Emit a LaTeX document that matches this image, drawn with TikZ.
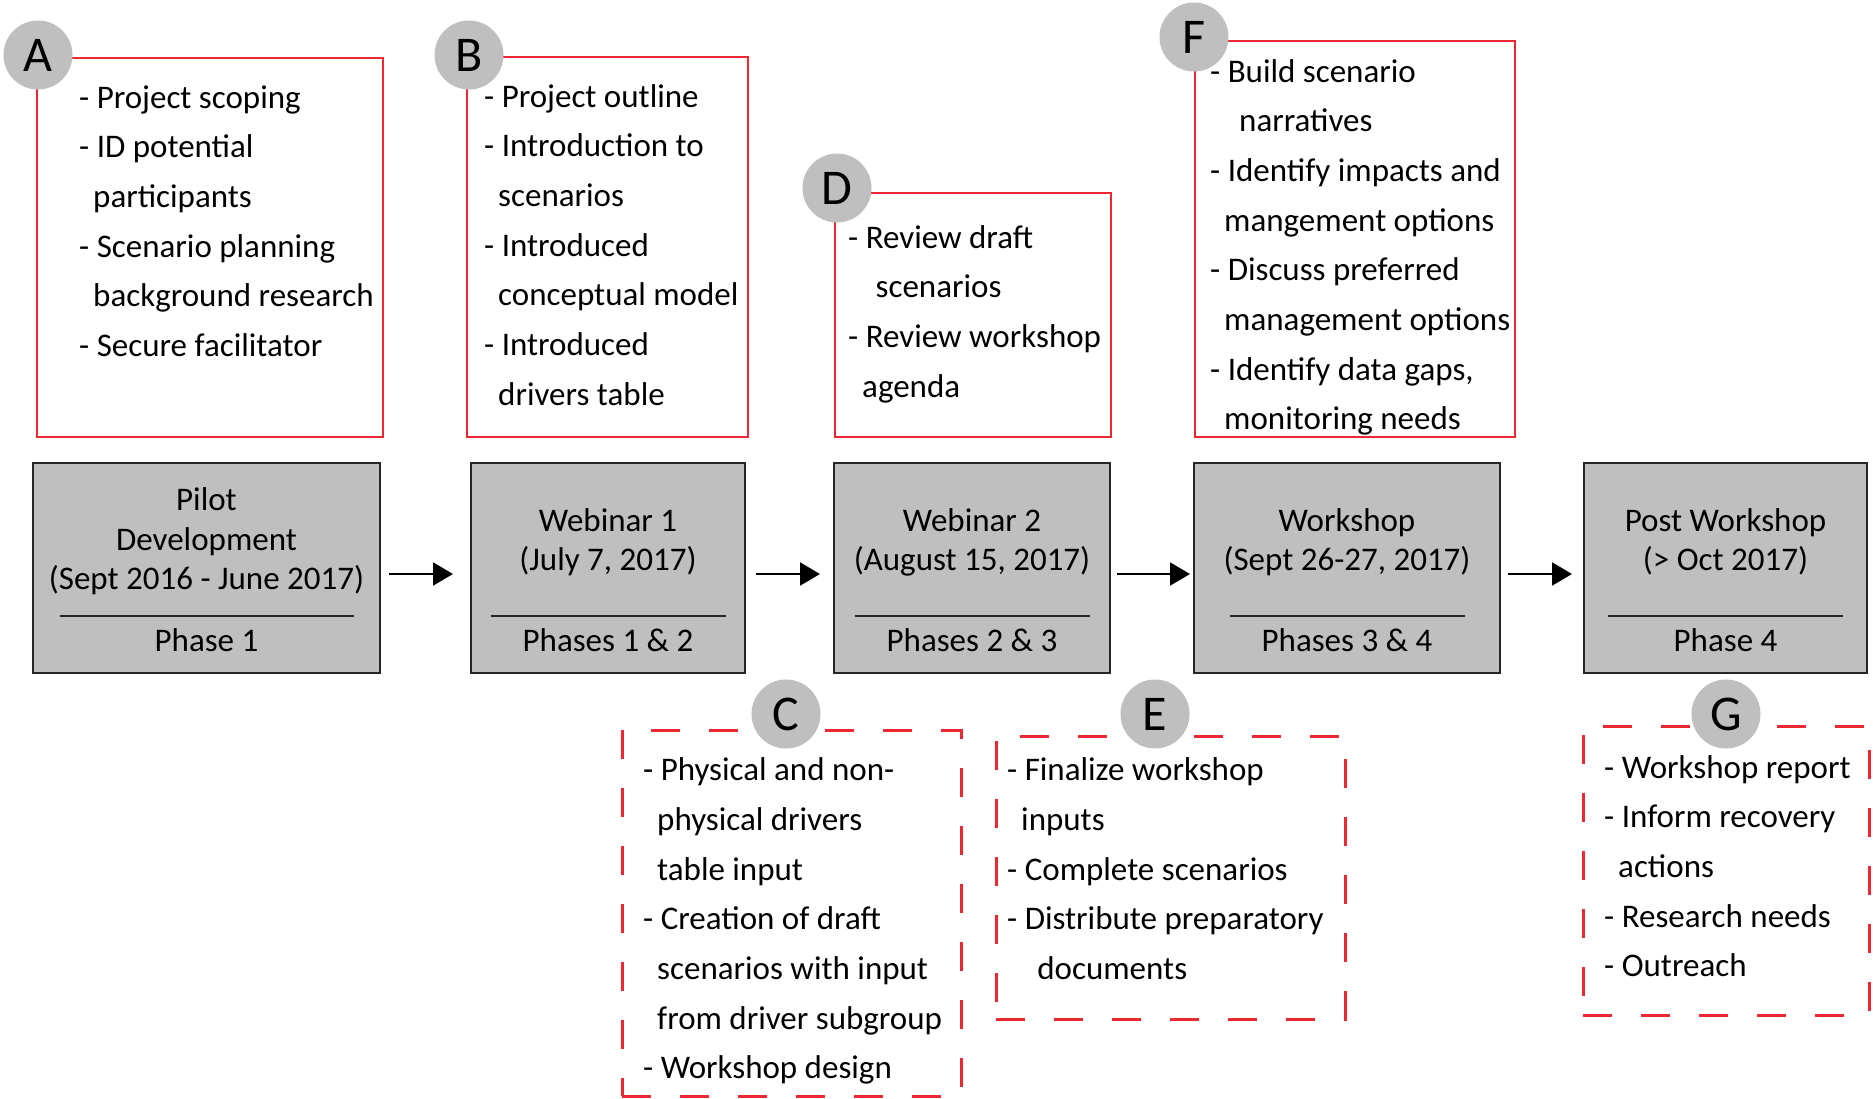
\documentclass[tikz,border=0pt]{standalone}
\usepackage{fontspec}
\setmainfont{Carlito}
\usetikzlibrary{positioning}
\usetikzlibrary{arrows.meta}

\definecolor{stagegray}{RGB}{191,191,192}
\definecolor{notered}{RGB}{236,40,50}

\newcommand{\contline}[1][14pt]{\hspace*{#1}}

\begin{document}
\begin{tikzpicture}[x = 1pt, y = -1pt,
    stagebox/.style = {draw = black!85, line width = 2pt, fill = stagegray, minimum height = 210pt, inner sep = 0pt},
    stagetitle/.style = {align = center, inner sep = 0pt, font = \fontsize{33}{39.5}\selectfont},
    phaselabel/.style = {inner sep = 0pt, font = \fontsize{33}{39.5}\selectfont},
    notebox/.style = {draw = notered, line width = 2.3pt, anchor = north west, inner sep = 0pt},
    dashbox/.style = {notebox, line width = 2.5pt, dash pattern = on 29pt off 29pt},
    itemlist/.style = {align = left, anchor = north west, inner sep = 0pt, font = \fontsize{33}{49.7}\selectfont},
    lettertag/.style = {circle, fill = stagegray, minimum size = 69pt, inner sep = 0pt, font = \fontsize{50}{60}\selectfont},
    flowarrow/.style = {-{Triangle[length = 20pt, width = 23pt]}, line width = 2pt},
    splitline/.style = {line width = 2pt, black!85}]

    \useasboundingbox (0,0) rectangle (1873,1098);

    % stages along the timeline
    \node[stagebox, minimum width = 347pt] (P1) at (206.5,568) {};
    \node[stagebox, minimum width = 274pt] (P2) at (608,568) {};
    \node[stagebox, minimum width = 276pt] (P3) at (972,568) {};
    \node[stagebox, minimum width = 306pt] (P4) at (1347,568) {};
    \node[stagebox, minimum width = 283pt] (P5) at (1725.5,568) {};

    \node[stagetitle, below = 20.85pt of P1.north] (T1) {\strut Pilot\\ Development\\ (Sept 2016 - June 2017)};
    \node[stagetitle, below = 41.35pt of P2.north] (T2) {\strut Webinar 1\\ (July 7, 2017)};
    \node[stagetitle, below = 41.35pt of P3.north] (T3) {\strut Webinar 2\\ (August 15, 2017)};
    \node[stagetitle, below = 41.35pt of P4.north] (T4) {\strut Workshop\\ (Sept 26-27, 2017)};
    \node[stagetitle, below = 41.35pt of P5.north] (T5) {\strut Post Workshop\\ (> Oct 2017)};

    \draw[splitline] ([xshift = -147pt, yshift = 58pt]P1.south) -- ([xshift = 147pt, yshift = 58pt]P1.south);
    \draw[splitline] ([xshift = -117.5pt, yshift = 58pt]P2.south) -- ([xshift = 117.5pt, yshift = 58pt]P2.south);
    \draw[splitline] ([xshift = -117.5pt, yshift = 58pt]P3.south) -- ([xshift = 117.5pt, yshift = 58pt]P3.south);
    \draw[splitline] ([xshift = -117.5pt, yshift = 58pt]P4.south) -- ([xshift = 117.5pt, yshift = 58pt]P4.south);
    \draw[splitline] ([xshift = -117.5pt, yshift = 58pt]P5.south) -- ([xshift = 117.5pt, yshift = 58pt]P5.south);

    \node[phaselabel, above = 22pt of P1.south] (L1) {Phase 1};
    \node[phaselabel, above = 22pt of P2.south] (L2) {Phases 1 \& 2};
    \node[phaselabel, above = 22pt of P3.south] (L3) {Phases 2 \& 3};
    \node[phaselabel, above = 22pt of P4.south] (L4) {Phases 3 \& 4};
    \node[phaselabel, above = 22pt of P5.south] (L5) {Phase 4};

    \draw[flowarrow, shorten < = 8pt, shorten > = 17pt] ([yshift = -6pt]P1.east) -- ([yshift = -6pt]P2.west);
    \draw[flowarrow, shorten < = 10pt, shorten > = 13pt] ([yshift = -6pt]P2.east) -- ([yshift = -6pt]P3.west);
    \draw[flowarrow, shorten < = 6pt, shorten > = 3pt] ([yshift = -6pt]P3.east) -- ([yshift = -6pt]P4.west);
    \draw[flowarrow, shorten < = 7pt, shorten > = 11pt] ([yshift = -6pt]P4.east) -- ([yshift = -6pt]P5.west);

    % notes above the timeline
    \node[notebox, minimum width = 346pt, minimum height = 379pt] (A) at (36,57) {};
    \node[notebox, minimum width = 281pt, minimum height = 380pt] (B) at (466,56) {};
    \node[notebox, minimum width = 276pt, minimum height = 244pt] (D) at (834,192) {};
    \node[notebox, minimum width = 320pt, minimum height = 396pt] (F) at (1194,40) {};

    \node[itemlist] (IA) at (79,73.1) {\strut - Project scoping\\
        - ID potential\\
        \contline participants\\
        - Scenario planning\\
        \contline background research\\
        - Secure facilitator};
    \node[itemlist] (IB) at (484,72.1) {\strut - Project outline\\
        - Introduction to\\
        \contline scenarios\\
        - Introduced\\
        \contline conceptual model\\
        - Introduced\\
        \contline drivers table};
    \node[itemlist] (ID) at (848,213.1) {\strut - Review draft\\
        \contline[20pt] scenarios\\
        - Review workshop\\
        \contline agenda};
    \node[itemlist] (IF) at (1210,47.1) {\strut - Build scenario\\
        \contline[21.5pt] narratives\\
        - Identify impacts and\\
        \contline mangement options\\
        - Discuss preferred\\
        \contline management options\\
        - Identify data gaps,\\
        \contline monitoring needs};

    \node[lettertag] (cA) at (38,55) {A};
    \node[lettertag] (cB) at (469,55) {B};
    \node[lettertag] (cD) at (837,188) {D};
    \node[lettertag] (cF) at (1194,37) {F};

    % notes below the timeline
    \node[dashbox, minimum width = 339pt, minimum height = 366pt] (C) at (621,729) {};
    \node[dashbox, minimum width = 349pt, minimum height = 283pt] (E) at (995,735) {};
    \node[dashbox, minimum width = 286pt, minimum height = 289pt] (G) at (1582,725) {};

    \node[itemlist] (IC) at (643,745.6) {\strut - Physical and non-\\
        \contline physical drivers\\
        \contline table input\\
        - Creation of draft\\
        \contline scenarios with input\\
        \contline from driver subgroup\\
        - Workshop design};
    \node[itemlist] (IE) at (1007,745.6) {\strut - Finalize workshop\\
        \contline inputs\\
        - Complete scenarios\\
        - Distribute preparatory\\
        \contline[22.7pt] documents};
    \node[itemlist] (IG) at (1604,743.1) {\strut - Workshop report\\
        - Inform recovery\\
        \contline actions\\
        - Research needs\\
        - Outreach};

    \node[lettertag] (cC) at (786,714) {C};
    \node[lettertag] (cE) at (1155,714) {E};
    \node[lettertag] (cG) at (1726,714) {G};

\end{tikzpicture}
\end{document}
